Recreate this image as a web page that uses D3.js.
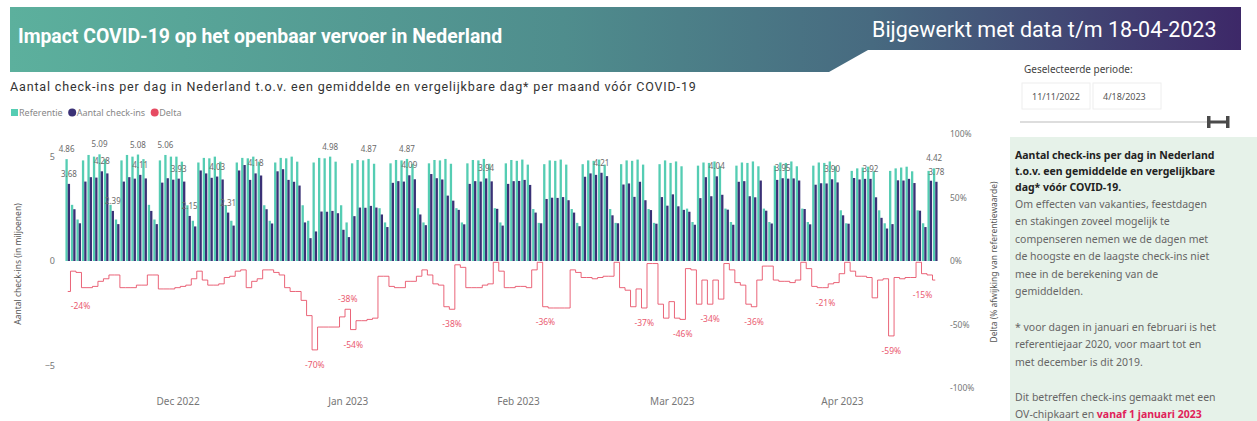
<!DOCTYPE html>
<html>
<head>
<meta charset="utf-8">
<script src="https://cdn.jsdelivr.net/npm/d3@7"></script>
<style>
  body { margin: 0; background: #fff; }
  svg { display: block; }
  text { font-family: "Noto Sans", "Open Sans", sans-serif; }
</style>
</head>
<body>
<svg id="chart" width="1257" height="421"></svg>
<script>
// Daily check-ins (millions) from 11 Nov 2022 to 18 Apr 2023
const firstDay = new Date(2022, 10, 11);
const lastDay = new Date(2023, 3, 18);

// Reference: average comparable day per month before COVID-19
const reference = [
  4.86, 2.68, 1.98, 4.80, 5.06, 4.98, 5.09,
  4.86, 2.68, 1.98, 4.80, 5.06, 4.98, 5.08,
  4.86, 2.68, 1.98, 4.80, 5.06, 4.98, 4.98,
  4.74, 2.66, 1.92, 4.70, 4.92, 4.90, 4.98,
  4.74, 2.66, 1.92, 4.70, 4.92, 4.90, 4.98,
  4.74, 2.66, 1.92, 4.70, 4.92, 4.90, 4.98,
  4.74, 2.66, 1.92, 4.70, 4.92, 4.90, 4.98,
  4.74, 2.66, 1.84, 4.66, 4.82, 4.80, 4.87,
  4.64, 2.52, 1.84, 4.66, 4.82, 4.80, 4.87,
  4.64, 2.52, 1.84, 4.66, 4.82, 4.80, 4.87,
  4.64, 2.52, 1.84, 4.66, 4.82, 4.80, 4.87,
  4.64, 2.52, 1.84, 4.66, 4.82, 4.78, 4.84,
  4.60, 2.48, 1.82, 4.62, 4.80, 4.78, 4.84,
  4.60, 2.48, 1.82, 4.62, 4.80, 4.78, 4.84,
  4.60, 2.48, 1.82, 4.62, 4.80, 4.78, 4.84,
  4.60, 2.48, 1.82, 4.62, 4.80, 4.68, 4.75,
  4.52, 2.50, 1.86, 4.55, 4.70, 4.68, 4.75,
  4.52, 2.50, 1.86, 4.55, 4.70, 4.68, 4.75,
  4.52, 2.50, 1.86, 4.55, 4.70, 4.68, 4.75,
  4.52, 2.50, 1.86, 4.55, 4.70, 4.68, 4.75,
  4.52, 2.42, 1.80, 4.30, 4.42, 4.46, 4.50,
  4.28, 2.42, 1.80, 4.30, 4.42, 4.46, 4.50,
  4.28, 2.42, 1.80, 4.30, 4.42
];

// Actual number of check-ins
const checkins = [
  3.68, 2.47, 1.80, 3.79, 4.00, 3.98, 4.28,
  4.18, 2.39, 1.76, 3.79, 4.00, 3.93, 4.11,
  3.94, 2.39, 1.76, 3.74, 3.95, 3.88, 3.93,
  3.79, 2.15, 1.65, 4.32, 4.18, 3.97, 4.03,
  3.89, 2.31, 1.69, 4.32, 4.58, 3.87, 4.18,
  4.08, 2.47, 1.79, 4.28, 4.38, 3.87, 3.78,
  3.60, 1.84, 1.09, 1.41, 2.36, 2.35, 2.39,
  2.28, 1.49, 1.14, 2.14, 2.55, 2.54, 2.63,
  2.55, 2.22, 1.62, 3.73, 3.81, 3.79, 4.09,
  3.90, 2.22, 1.71, 4.15, 3.95, 3.89, 3.12,
  2.88, 2.44, 1.75, 3.68, 3.81, 3.79, 3.94,
  3.80, 2.49, 1.69, 3.68, 3.81, 3.82, 3.87,
  3.63, 2.31, 1.80, 2.96, 3.02, 3.01, 3.05,
  2.90, 2.31, 1.66, 4.02, 4.18, 4.11, 4.21,
  4.05, 2.18, 1.80, 3.65, 3.70, 3.06, 3.78,
  2.90, 2.43, 1.78, 3.05, 2.64, 3.18, 2.61,
  2.44, 2.35, 1.73, 3.00, 4.00, 3.09, 4.04,
  3.16, 2.45, 1.73, 3.78, 3.81, 3.09, 3.04,
  3.84, 2.40, 1.79, 3.87, 3.95, 3.93, 3.94,
  3.84, 2.48, 1.75, 3.64, 3.71, 3.70, 3.90,
  3.75, 2.18, 1.78, 3.96, 3.89, 3.92, 3.92,
  3.04, 2.06, 1.55, 1.76, 3.85, 3.84, 3.92,
  3.72, 2.40, 1.62, 3.83, 3.78
];

// Delta: % deviation from the reference value
const delta = [
  -24, -8, -9, -21, -21, -20, -16,
  -14, -11, -11, -21, -21, -21, -19,
  -19, -11, -11, -22, -22, -22, -21,
  -20, -19, -14, -8, -15, -19, -19,
  -18, -13, -12, -8, -7, -21, -16,
  -14, -7, -7, -9, -11, -21, -24,
  -24, -31, -43, -70, -52, -52, -52,
  -52, -44, -38, -54, -47, -47, -46,
  -45, -12, -12, -20, -21, -21, -16,
  -16, -12, -7, -11, -18, -19, -36,
  -38, -3, -5, -21, -21, -21, -19,
  -18, -1, -8, -21, -21, -20, -20,
  -21, -7, -1, -36, -37, -37, -37,
  -37, -7, -9, -13, -13, -14, -13,
  -12, -12, -1, -21, -23, -36, -22,
  -37, -2, -2, -34, -45, -32, -45,
  -46, -6, -7, -34, -15, -34, -15,
  -30, -2, -7, -17, -19, -34, -36,
  -15, -4, -4, -15, -16, -16, -17,
  -15, -1, -6, -20, -21, -21, -18,
  -17, -10, -1, -8, -12, -12, -13,
  -29, -15, -14, -59, -13, -14, -13,
  -13, -1, -10, -11, -15
];

// Days (index) that carry a value label
const referenceLabelDays = [0, 6, 13, 18, 48, 55, 62, 158];
const checkinLabelDays = [0, 6, 8, 13, 20, 22, 27, 29, 34, 62, 76, 97, 118, 130, 139, 146, 158];
const deltaLabelDays = [0, 45, 51, 52, 70, 87, 105, 112, 117, 125, 138, 150, 158];
const deltaLabelsAbove = [51];

// Axis ticks
const monthLabels = ["Dec 2022", "Jan 2023", "Feb 2023", "Mar 2023", "Apr 2023"];
const countTicks = [5, 0, -5];
const deltaTicks = [100, 50, 0, -50, -100];

const legendItems = ["Referentie", "Aantal check-ins", "Delta"];

const infoBold = [
  "Aantal check-ins per dag in Nederland",
  "t.o.v. een gemiddelde en vergelijkbare",
  "dag* vóór COVID-19."
];
const infoBody = [
  "Om effecten van vakanties, feestdagen",
  "en stakingen zoveel mogelijk te",
  "compenseren nemen we de dagen met",
  "de hoogste en de laagste check-ins niet",
  "mee in de berekening van de",
  "gemiddelden."
];
const infoNote = [
  "* voor dagen in januari en februari is het",
  "referentiejaar 2020, voor maart tot en",
  "met december is dit 2019."
];

// ---------------------------------------------------------------------------
const COL_REF = "#55cdb3";
const COL_ACT = "#3a3176";
const COL_DELTA = "#e64a62";

const svg = d3.select("#chart");
const days = d3.timeDay.range(firstDay, d3.timeDay.offset(lastDay, 1));
const n = days.length;

// Header banner
const defs = svg.append("defs");
const grad = defs.append("linearGradient").attr("id", "hdr").attr("x1", "0%").attr("x2", "100%");
[["0%", "#5cb09d"], ["45%", "#4f8d8d"], ["70%", "#476a80"], ["100%", "#3d2868"]].forEach(([o, c]) =>
  grad.append("stop").attr("offset", o).attr("stop-color", c));

svg.append("path")
  .attr("d", "M10,7 L1241,7 L1241,50 L868,50 L829,72 L10,72 Z")
  .attr("fill", "url(#hdr)");

svg.append("text").attr("x", 18).attr("y", 43)
  .attr("fill", "#fff").attr("font-size", 19.4).attr("font-weight", 700)
  .style("font-family", "Roboto, sans-serif")
  .text("Impact COVID-19 op het openbaar vervoer in Nederland");

svg.append("text").attr("x", 872).attr("y", 37)
  .attr("fill", "#fff").attr("font-size", 21.5).attr("font-weight", 400)
  .style("font-family", "Roboto, sans-serif")
  .text("Bijgewerkt met data t/m 18-04-2023");

// Chart subtitle
svg.append("text").attr("x", 10).attr("y", 91)
  .attr("fill", "#333").attr("font-size", 12.5)
  .style("font-family", "Roboto, sans-serif").style("letter-spacing", "0.85px")
  .text("Aantal check-ins per dag in Nederland t.o.v. een gemiddelde en vergelijkbare dag* per maand vóór COVID-19");

// Legend
const legend = svg.append("g").attr("transform", "translate(11,113)");
let lx = 0;
legendItems.forEach((name, i) => {
  const col = [COL_REF, COL_ACT, COL_DELTA][i];
  if (i === 0) legend.append("rect").attr("x", lx).attr("y", -4).attr("width", 7).attr("height", 7).attr("fill", col);
  else legend.append("circle").attr("cx", lx + 3.5).attr("cy", -0.5).attr("r", 4).attr("fill", col);
  const t = legend.append("text").attr("x", lx + 8).attr("y", 3).attr("font-size", 9).attr("fill", "#888").text(name);
  lx += 8 + t.node().getComputedTextLength() + 6;
});

// Scales
const plotL = 65, plotR = 938, plotT = 134, plotB = 388;
const x = d3.scaleBand().domain(d3.range(n)).range([plotL, plotR]).paddingInner(0.16).paddingOuter(0.08);
const xs = d3.scaleBand().domain(["ref", "act"]).range([0, x.bandwidth()]);
const xTime = d3.scaleTime()
  .domain([d3.timeHour.offset(firstDay, -12), d3.timeHour.offset(lastDay, 12)])
  .range([plotL, plotR]);
const yL = d3.scaleLinear().domain([-6.06, 6.06]).range([plotB, plotT]);
const yR = d3.scaleLinear().domain([-100, 100]).range([plotB, plotT]);

// Bars
const bars = svg.append("g");
bars.selectAll("rect.ref").data(reference).join("rect").attr("class", "ref")
  .attr("x", (d, i) => x(i) + xs("ref")).attr("width", xs.bandwidth())
  .attr("y", d => yL(d)).attr("height", d => yL(0) - yL(d)).attr("fill", COL_REF);
bars.selectAll("rect.act").data(checkins).join("rect").attr("class", "act")
  .attr("x", (d, i) => x(i) + xs("act")).attr("width", xs.bandwidth())
  .attr("y", d => yL(d)).attr("height", d => yL(0) - yL(d)).attr("fill", COL_ACT);

// Bar value labels
const fmt = d3.format(".2f");
const labels = svg.append("g").attr("font-size", 8).attr("fill", "#6a6a6a").attr("text-anchor", "middle");
referenceLabelDays.forEach(i => {
  labels.append("text").attr("x", x(i) + xs("ref") + xs.bandwidth() / 2).attr("y", yL(reference[i]) - 7).text(fmt(reference[i]));
});
checkinLabelDays.forEach(i => {
  labels.append("text").attr("x", x(i) + xs("act") + xs.bandwidth() / 2).attr("y", yL(checkins[i]) - 7).text(fmt(checkins[i]));
});

// Delta step line
const cx = i => x(i) + x.bandwidth() / 2;
svg.append("path").datum(delta)
  .attr("fill", "none").attr("stroke", COL_DELTA).attr("stroke-width", 1).attr("opacity", 0.85)
  .attr("d", d3.line().x((d, i) => cx(i)).y(d => yR(d)).curve(d3.curveStep));

const dl = svg.append("g").attr("font-size", 8.5).attr("fill", "#ea5a70");
deltaLabelDays.forEach(i => {
  const above = deltaLabelsAbove.includes(i);
  const t = dl.append("text").attr("y", yR(delta[i]) + (above ? -7 : 18)).text(delta[i] + "%");
  const w = t.node().getComputedTextLength();
  let px = cx(i), anchor = "middle";
  if (px - w / 2 < plotL) { px = cx(i) + 3; anchor = "start"; }
  else if (px + w / 2 > plotR) { px = cx(i) - 3; anchor = "end"; }
  t.attr("x", px).attr("text-anchor", anchor);
});

// Axes
const axL = svg.append("g").attr("transform", `translate(${plotL - 5},0)`)
  .call(d3.axisLeft(yL).tickValues(countTicks).tickSize(0).tickPadding(5));
const axR = svg.append("g").attr("transform", `translate(${plotR + 6},0)`)
  .call(d3.axisRight(yR).tickValues(deltaTicks).tickSize(0).tickPadding(6).tickFormat(d => d + "%"));
const axB = svg.append("g").attr("transform", `translate(0,${plotB + 2})`)
  .call(d3.axisBottom(xTime).tickValues(d3.timeMonth.range(new Date(2022, 11, 1), new Date(2023, 4, 1)))
    .tickFormat((d, i) => monthLabels[i]).tickSize(0).tickPadding(8));
[axL, axR, axB].forEach(a => {
  a.select(".domain").remove();
  a.selectAll("text").attr("fill", "#777").style("font-family", "Noto Sans, sans-serif");
});
axL.selectAll("text").attr("font-size", 9);
axR.selectAll("text").attr("font-size", 8.5);
axB.selectAll("text").attr("font-size", 10);

svg.append("text").attr("transform", "translate(21,264) rotate(-90)")
  .attr("text-anchor", "middle").attr("font-size", 8.5).attr("fill", "#555")
  .text("Aantal check-ins (in miljoenen)");
svg.append("text").attr("transform", "translate(997,262) rotate(-90)")
  .attr("text-anchor", "middle").attr("font-size", 8.5).attr("fill", "#555")
  .text("Delta (% afwijking van referentiewaarde)");

// Period selector
svg.append("text").attr("x", 1024).attr("y", 73).attr("font-size", 10).attr("fill", "#444")
  .text("Geselecteerde periode:");
[[1022, "11/11/2022"], [1093, "4/18/2023"]].forEach(([bx, s]) => {
  svg.append("rect").attr("x", bx).attr("y", 83).attr("width", 68).attr("height", 26)
    .attr("fill", "#fff").attr("stroke", "#eee");
  svg.append("text").attr("x", bx + 10).attr("y", 100).attr("font-size", 9).attr("fill", "#555").text(s);
});
svg.append("line").attr("x1", 1020).attr("x2", 1210).attr("y1", 122).attr("y2", 122)
  .attr("stroke", "#ddd").attr("stroke-width", 2);
const h = svg.append("g").attr("fill", "#4a4a4a");
h.append("rect").attr("x", 1207).attr("y", 116).attr("width", 3.5).attr("height", 12);
h.append("rect").attr("x", 1226).attr("y", 116).attr("width", 3.5).attr("height", 12);
h.append("rect").attr("x", 1207).attr("y", 120.5).attr("width", 22).attr("height", 3);

// Info panel
svg.append("rect").attr("x", 1010).attr("y", 137).attr("width", 247).attr("height", 284).attr("fill", "#e6f2e9");
const info = svg.append("g").attr("font-size", 10.5);
infoBold.forEach((s, i) => info.append("text").attr("x", 1015).attr("y", 159 + i * 16)
  .attr("font-weight", 700).attr("fill", "#222").text(s));
infoBody.forEach((s, i) => info.append("text").attr("x", 1015).attr("y", 208 + i * 17.4)
  .attr("fill", "#666").text(s));
infoNote.forEach((s, i) => info.append("text").attr("x", 1015).attr("y", 331 + i * 17.4)
  .attr("fill", "#666").text(s));
info.append("text").attr("x", 1015).attr("y", 401).attr("fill", "#666").text("Dit betreffen check-ins gemaakt met een");
const last = info.append("text").attr("x", 1015).attr("y", 418).attr("fill", "#666");
last.append("tspan").text("OV-chipkaart en ");
last.append("tspan").attr("font-weight", 700).attr("fill", "#e0235a").text("vanaf 1 januari 2023");
</script>
</body>
</html>
